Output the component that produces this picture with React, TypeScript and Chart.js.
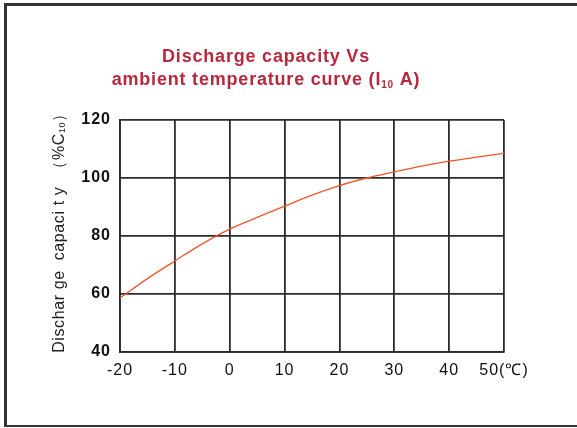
import React, { useEffect, useRef } from "react";
import { Chart, registerables } from "chart.js";

Chart.register(...registerables);

const TEMPERATURES: number[] = [-20, -15, -10, -5, 0, 5, 10, 15, 20, 25, 30, 35, 40, 45, 50];
const CAPACITY: number[] = [58.6, 65.3, 71.4, 77.3, 82.4, 86.4, 90.3, 94.1, 97.4, 100.0, 102.1, 104.1, 105.8, 107.2, 108.5];
const X_TICKS: number[] = [-20, -10, 0, 10, 20, 30, 40, 50];
const Y_TICKS: number[] = [40, 60, 80, 100, 120];
const TITLE_LINE1 = "Discharge capacity Vs";
const TITLE_LINE2_PARTS: [string, string, string] = ["ambient temperature curve (I", "10", " A)"];
const Y_TITLE_PARTS: [string, string, string] = ["Dischar ge  capaci t y  \uff08%C", "10", "\uff09"];
const X_UNIT = "(\u2103)";

const TITLE_COLOR = "#b8283e";
const GRID_COLOR = "#2b2b2b";
const LINE_COLOR = "#f0552a";
const FONT = '"Liberation Sans", Arial, sans-serif';

const textPlugin = {
  id: "customTexts",
  beforeDraw(chart: any) {
    (chart.ctx as any).letterSpacing = "1px";
  },
  afterDraw(chart: any) {
    const ctx: CanvasRenderingContext2D = chart.ctx;
    ctx.save();
    // Title
    ctx.fillStyle = TITLE_COLOR;
    (ctx as any).letterSpacing = "0.8px";
    ctx.textBaseline = "alphabetic";
    ctx.textAlign = "center";
    ctx.font = `bold 18px ${FONT}`;
    ctx.fillText(TITLE_LINE1, 266, 62);
    ctx.textAlign = "left";
    const bigFont = `bold 18px ${FONT}`;
    const smallFont = `bold 10px ${FONT}`;
    ctx.font = bigFont;
    const w1 = ctx.measureText(TITLE_LINE2_PARTS[0]).width;
    const w3 = ctx.measureText(TITLE_LINE2_PARTS[2]).width;
    ctx.font = smallFont;
    const w2 = ctx.measureText(TITLE_LINE2_PARTS[1]).width;
    let x = 266 - (w1 + w2 + w3) / 2;
    ctx.font = bigFont;
    ctx.fillText(TITLE_LINE2_PARTS[0], x, 85);
    x += w1;
    ctx.font = smallFont;
    ctx.fillText(TITLE_LINE2_PARTS[1], x, 88);
    x += w2;
    ctx.font = bigFont;
    ctx.fillText(TITLE_LINE2_PARTS[2], x, 85);

    // Y axis title (rotated)
    ctx.fillStyle = "#222";
    (ctx as any).letterSpacing = "0.6px";
    ctx.translate(59.5, 229);
    ctx.rotate(-Math.PI / 2);
    const yBig = `16px ${FONT}`;
    const ySmall = `9px ${FONT}`;
    ctx.font = yBig;
    const a = ctx.measureText(Y_TITLE_PARTS[0]).width;
    const c = ctx.measureText(Y_TITLE_PARTS[2]).width;
    ctx.font = ySmall;
    const b = ctx.measureText(Y_TITLE_PARTS[1]).width;
    ctx.textBaseline = "middle";
    let yx = -(a + b + c) / 2;
    ctx.font = yBig;
    ctx.fillText(Y_TITLE_PARTS[0], yx, 0);
    yx += a;
    ctx.font = ySmall;
    ctx.fillText(Y_TITLE_PARTS[1], yx, 3);
    yx += b;
    ctx.font = yBig;
    ctx.fillText(Y_TITLE_PARTS[2], yx, 0);
    ctx.restore();
  },
};

export default function App() {
  const canvasRef = useRef<HTMLCanvasElement | null>(null);

  useEffect(() => {
    if (!canvasRef.current) return;
    const chart = new Chart(canvasRef.current, {
      type: "line",
      data: {
        datasets: [
          {
            data: TEMPERATURES.map((t, i) => ({ x: t, y: CAPACITY[i] })),
            borderColor: LINE_COLOR,
            borderWidth: 1.3,
            pointRadius: 0,
            cubicInterpolationMode: "monotone",
            fill: false,
          },
        ],
      },
      options: {
        animation: false,
        responsive: false,
        devicePixelRatio: 1,
        layout: { padding: { left: 0, right: 73, top: 120, bottom: 0 } },
        plugins: { legend: { display: false }, title: { display: false }, tooltip: { enabled: false } },
        scales: {
          x: {
            type: "linear",
            min: -20,
            max: 50,
            afterFit(scale: any) {
              scale.height = 76;
            },
            afterBuildTicks(scale: any) {
              scale.ticks = X_TICKS.map((v) => ({ value: v }));
            },
            ticks: {
              color: "#111",
              font: { family: FONT, size: 16 },
              padding: 9,
              maxRotation: 0,
              autoSkip: false,
              callback: (v: any) => (Number(v) === 50 ? `${v}${X_UNIT}` : `${v}`),
            },
            grid: { color: GRID_COLOR, lineWidth: 1.8, drawTicks: false },
            border: { color: GRID_COLOR, width: 1.8 },
          },
          y: {
            type: "linear",
            min: 40,
            max: 120,
            afterFit(scale: any) {
              scale.width = 120;
            },
            afterBuildTicks(scale: any) {
              scale.ticks = Y_TICKS.map((v) => ({ value: v }));
            },
            ticks: {
              color: "#111",
              font: { family: FONT, size: 16, weight: "bold" },
              padding: 9,
              autoSkip: false,
            },
            grid: { color: GRID_COLOR, lineWidth: 1.8, drawTicks: false },
            border: { color: GRID_COLOR, width: 1.8 },
          },
        },
      },
      plugins: [textPlugin],
    } as any);
    return () => chart.destroy();
  }, []);

  return (
    <div style={{ position: "fixed", left: 0, top: 0, width: 577, height: 428, background: "#fff" }}>
      <div
        style={{
          position: "absolute",
          left: 4,
          top: 3,
          width: 573,
          height: 424,
          boxSizing: "border-box",
          borderTop: "3px solid #333",
          borderLeft: "3px solid #333",
          borderBottom: "2px solid #333",
        }}
      />
      <canvas
        ref={canvasRef}
        width={577}
        height={428}
        style={{ position: "absolute", left: 0, top: 0, width: 577, height: 428, display: "block" }}
      />
    </div>
  );
}
